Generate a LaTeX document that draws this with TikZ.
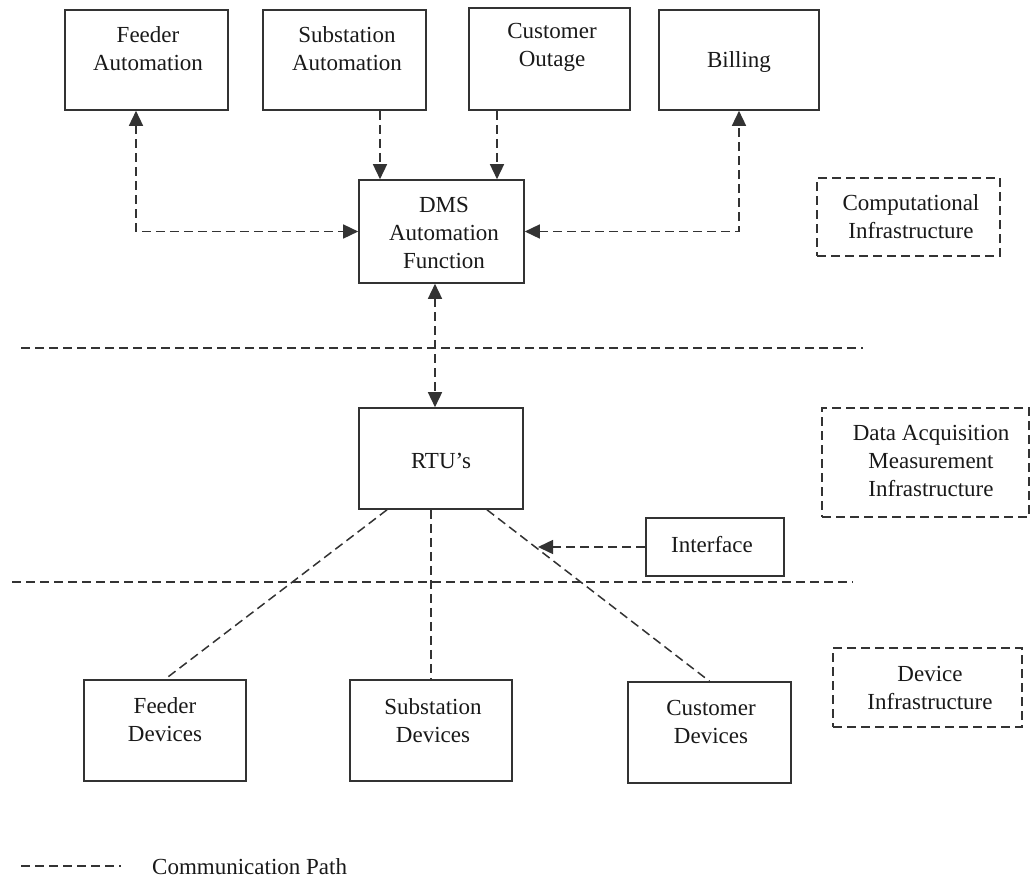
\documentclass[tikz,border=0pt]{standalone}
\usepackage{fontspec}
\setmainfont{Liberation Serif}
\usetikzlibrary{arrows.meta}
\begin{document}
\begin{tikzpicture}[x=1pt,y=-1pt,
  box/.style={draw=black!80, line width=1.6pt, inner sep=0pt},
  zone/.style={draw=black!80, line width=1.5pt, dash pattern=on 9pt off 5pt, inner sep=0pt},
  lbl/.style={align=center, font=\fontsize{23}{28}\selectfont, text=black!90, inner sep=0pt},
  comm/.style={draw=black!80, line width=1.5pt, dash pattern=on 9pt off 5pt},
  tip/.style={-{Triangle[length=15pt,width=14pt]}},
  tips/.style={{Triangle[length=15pt,width=14pt]}-{Triangle[length=15pt,width=14pt]}}]
\useasboundingbox (0,0) rectangle (1031,879);

% computational layer
\node[box, minimum width=163pt, minimum height=100pt] (fa) at (146.5,60) {};
\node[lbl] (fa-t) at (148,49) {Feeder\\Automation};
\node[box, minimum width=163pt, minimum height=100pt] (sa) at (344.5,60) {};
\node[lbl] (sa-t) at (347,49) {Substation\\Automation};
\node[box, minimum width=161pt, minimum height=102pt] (co) at (549.5,59) {};
\node[lbl] (co-t) at (552,47) {Customer\\Outage};
\node[box, minimum width=160pt, minimum height=100pt] (bill) at (739,60) {};
\node[lbl] (bill-t) at (739,62) {Billing};
\node[box, minimum width=165pt, minimum height=103pt] (dms) at (441.5,231.5) {};
\node[lbl] (dms-t) at (444,233) {DMS\\Automation\\Function};
\node[zone, minimum width=183pt, minimum height=78pt] (ci) at (908.5,217) {};
\node[lbl] (ci-t) at (911,216.5) {Computational\\Infrastructure};

% data acquisition layer
\node[box, minimum width=164pt, minimum height=101pt] (rtu) at (441,458.5) {};
\node[lbl] (rtu-t) at (441,461) {RTU’s};
\node[zone, minimum width=207pt, minimum height=109pt] (da) at (925.5,462.5) {};
\node[lbl] (da-t) at (931,461) {Data Acquisition\\Measurement\\Infrastructure};
\node[box, minimum width=138pt, minimum height=58pt] (if) at (715,547) {};
\node[lbl] (if-t) at (712,545) {Interface};

% device layer
\node[box, minimum width=162pt, minimum height=101pt] (fd) at (165,730.5) {};
\node[lbl] (fd-t) at (165,720) {Feeder\\Devices};
\node[box, minimum width=162pt, minimum height=101pt] (sd) at (431,730.5) {};
\node[lbl] (sd-t) at (433,720.5) {Substation\\Devices};
\node[box, minimum width=163pt, minimum height=101pt] (cd) at (709.5,732.5) {};
\node[lbl] (cd-t) at (711,722) {Customer\\Devices};
\node[zone, minimum width=189pt, minimum height=79pt] (di) at (927.5,687.5) {};
\node[lbl] (di-t) at (930,687.5) {Device\\Infrastructure};

% connector columns
\coordinate (fx) at (136,0);
\coordinate (sx) at (380,0);
\coordinate (cx) at (497,0);
\coordinate (rx) at (435,0);
\coordinate (r1) at (387,0);
\coordinate (r2) at (431,0);
\coordinate (r3) at (487,0);
\coordinate (ix) at (538,0);

% communication paths
\draw[comm, tips] (fa.south -| fx) |- (dms.west);
\draw[comm, tip] (sa.south -| sx) -- (sx |- dms.north);
\draw[comm, tip] (co.south -| cx) -- (cx |- dms.north);
\draw[comm, tips] (dms.east) -| (bill.south);
\draw[comm, tips] (dms.south -| rx) -- (rx |- rtu.north);
\draw[comm] (rtu.south -| r1) -- (fd.north);
\draw[comm] (rtu.south -| r2) -- (sd.north);
\draw[comm] (rtu.south -| r3) -- (cd.north);
\draw[comm, tip] (if.west) -- (if.west -| ix);

% layer dividers
\coordinate (d1a) at (21,348);
\coordinate (d1b) at (863,348);
\coordinate (d2a) at (12,582);
\coordinate (d2b) at (853,582);
\draw[comm] (d1a) -- (d1b);
\draw[comm] (d2a) -- (d2b);

% legend
\coordinate (lg1) at (21,866);
\coordinate (lg2) at (121,866);
\draw[comm] (lg1) -- (lg2);
\node[lbl, anchor=west] (lg-t) at (152,867) {Communication Path};
\end{tikzpicture}
\end{document}
